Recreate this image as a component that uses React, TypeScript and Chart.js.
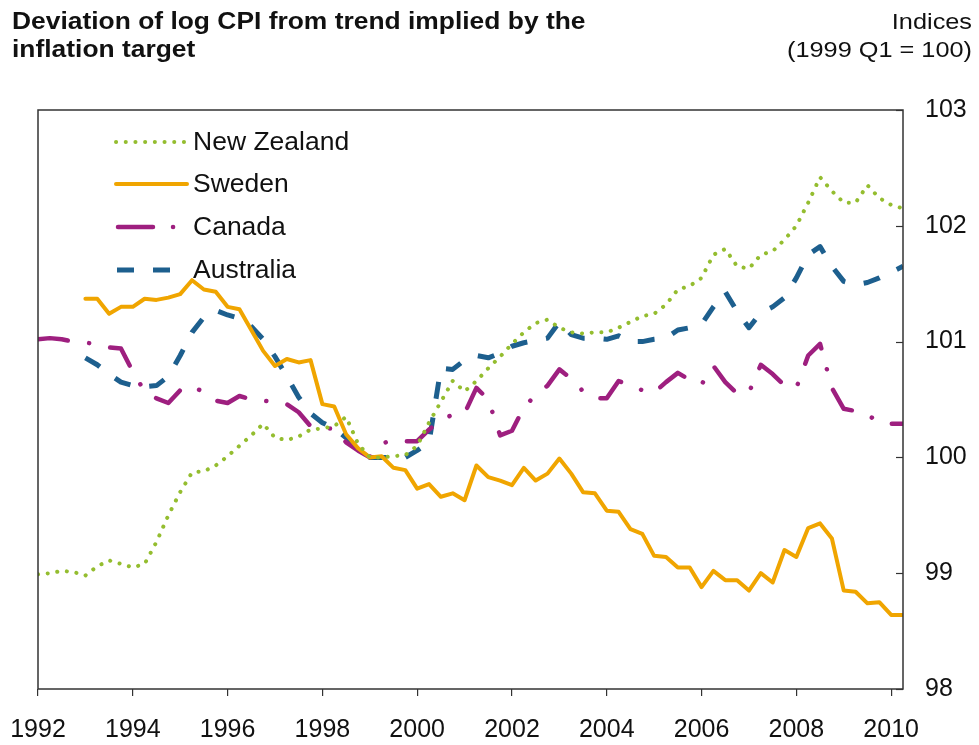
import React, { useEffect, useRef } from "react";
import { Chart, registerables } from "chart.js";

Chart.register(...registerables);

// ---- Data ----
const quarters = [
  "1992Q1", "1992Q2", "1992Q3", "1992Q4",
  "1993Q1", "1993Q2", "1993Q3", "1993Q4",
  "1994Q1", "1994Q2", "1994Q3", "1994Q4",
  "1995Q1", "1995Q2", "1995Q3", "1995Q4",
  "1996Q1", "1996Q2", "1996Q3", "1996Q4",
  "1997Q1", "1997Q2", "1997Q3", "1997Q4",
  "1998Q1", "1998Q2", "1998Q3", "1998Q4",
  "1999Q1", "1999Q2", "1999Q3", "1999Q4",
  "2000Q1", "2000Q2", "2000Q3", "2000Q4",
  "2001Q1", "2001Q2", "2001Q3", "2001Q4",
  "2002Q1", "2002Q2", "2002Q3", "2002Q4",
  "2003Q1", "2003Q2", "2003Q3", "2003Q4",
  "2004Q1", "2004Q2", "2004Q3", "2004Q4",
  "2005Q1", "2005Q2", "2005Q3", "2005Q4",
  "2006Q1", "2006Q2", "2006Q3", "2006Q4",
  "2007Q1", "2007Q2", "2007Q3", "2007Q4",
  "2008Q1", "2008Q2", "2008Q3", "2008Q4",
  "2009Q1", "2009Q2", "2009Q3", "2009Q4",
  "2010Q1", "2010Q2",
];

const newZealand = [
  98.99, 99.0, 99.02, 99.01,
  98.98, 99.06, 99.11, 99.08,
  99.05, 99.08, 99.27, 99.5,
  99.7, 99.87, 99.88, 99.93,
  100.01, 100.1, 100.19, 100.29,
  100.17, 100.15, 100.18, 100.24,
  100.25, 100.27, 100.35, 100.12,
  100.0, 100.0, 100.01, 100.02,
  100.1, 100.3, 100.48, 100.66,
  100.57, 100.66, 100.77, 100.87,
  100.98, 101.08, 101.16, 101.19,
  101.12, 101.08, 101.07, 101.08,
  101.08, 101.12, 101.17, 101.22,
  101.24, 101.32, 101.45, 101.48,
  101.55, 101.75, 101.8, 101.65,
  101.63, 101.75, 101.78, 101.88,
  102.0, 102.2, 102.42, 102.3,
  102.2, 102.2, 102.35, 102.24,
  102.18, 102.15,
];

const sweden = [
  null, null, null, null,
  101.37, 101.37, 101.24, 101.3,
  101.3, 101.37, 101.36, 101.38,
  101.41, 101.53, 101.45, 101.43,
  101.3, 101.28, 101.1, 100.92,
  100.79, 100.85, 100.82, 100.84,
  100.46, 100.44, 100.2, 100.08,
  100.0, 100.01, 99.91, 99.89,
  99.73, 99.77, 99.66, 99.69,
  99.63, 99.93, 99.83, 99.8,
  99.76, 99.91, 99.8, 99.86,
  99.99, 99.86, 99.7, 99.69,
  99.54, 99.53, 99.38, 99.34,
  99.15, 99.14, 99.05, 99.05,
  98.88, 99.02, 98.94, 98.94,
  98.85, 99.0, 98.92, 99.2,
  99.14, 99.39, 99.43, 99.3,
  98.85, 98.84, 98.74, 98.75,
  98.64, 98.64,
];

const canada = [
  101.02, 101.03, 101.02, 101.0,
  100.99, 100.98, 100.95, 100.94,
  100.74, 100.57, 100.51, 100.47,
  100.58, 100.62, 100.56, 100.49,
  100.47, 100.53, 100.5, 100.49,
  100.48, 100.46, 100.39, 100.27,
  100.25, 100.25, 100.13, 100.06,
  100.0, 100.12, 100.15, 100.14,
  100.14, 100.24, 100.32, 100.37,
  100.38, 100.6, 100.5, 100.19,
  100.23, 100.43, 100.54, 100.62,
  100.76, 100.68, 100.57, 100.51,
  100.51, 100.66, 100.62, 100.58,
  100.56, 100.65, 100.73, 100.67,
  100.63, 100.79, 100.65, 100.55,
  100.56, 100.8, 100.72, 100.62,
  100.6, 100.88, 100.98, 100.6,
  100.42, 100.4, 100.37, 100.3,
  100.29, 100.29,
];

const australia = [
  null, null, null, null,
  100.86, 100.8, 100.72, 100.65,
  100.62, 100.61, 100.62, 100.7,
  100.88, 101.08, 101.21, 101.27,
  101.23, 101.2, 101.13, 101.02,
  100.87, 100.7, 100.52, 100.38,
  100.3, 100.25, 100.17, 100.08,
  100.0, 100.0, 100.0, 100.0,
  100.06, 100.13, 100.77, 100.76,
  100.84, 100.88, 100.86, 100.9,
  100.96, 100.99, 101.01, 101.03,
  101.17, 101.06, 101.03, 101.03,
  101.02, 101.05, 101.0, 101.0,
  101.02, 101.03, 101.1, 101.12,
  101.15, 101.3, 101.43, 101.26,
  101.12, 101.25, 101.3, 101.38,
  101.55, 101.75, 101.82, 101.65,
  101.52, 101.49, 101.51, 101.55,
  101.6, 101.65,
];

const seriesNames = ["New Zealand", "Sweden", "Canada", "Australia"];
const xTickYears = [1992, 1994, 1996, 1998, 2000, 2002, 2004, 2006, 2008, 2010];
const yTickValues = [98, 99, 100, 101, 102, 103];
const titleLines = ["Deviation of log CPI from trend implied by the", "inflation target"];
const unitLines = ["Indices", "(1999 Q1 = 100)"];

// ---- Styles ----
const FONT = '"Liberation Sans", Arial, Helvetica, sans-serif';
const TEXT = "#111111";
const AXIS = "#333333";

const styles = [
  { color: "#94BD2F", width: 4, dash: [0.1, 9.6], cap: "round", legendDash: [0.1, 9.6] },
  { color: "#F0A500", width: 4, dash: [], cap: "round", legendDash: [] },
  { color: "#9E1F7F", width: 4.5, dash: [30, 21.5, 0.1, 21.5], cap: "round", legendDash: [35, 20, 0.1, 100] },
  { color: "#1D5F8E", width: 5, dash: [17, 19], cap: "butt", legendDash: [17, 19] },
];

function quarterToX(q: string): number {
  const yr = parseInt(q.slice(0, 4), 10);
  const n = parseInt(q.slice(5), 10);
  return yr + (n - 1) / 4;
}

function toPoints(values: (number | null)[]) {
  const pts: { x: number; y: number }[] = [];
  values.forEach((v, i) => {
    if (v !== null && v !== undefined) pts.push({ x: quarterToX(quarters[i]), y: v });
  });
  return pts;
}

function stretchedText(ctx: CanvasRenderingContext2D, text: string, x: number, y: number, sx: number, align: "left" | "right") {
  ctx.save();
  ctx.translate(x, y);
  ctx.scale(sx, 1);
  ctx.textAlign = align;
  ctx.fillText(text, 0, 0);
  ctx.restore();
}

const decorPlugin = {
  id: "decor",
  afterDraw(chart: any) {
    const ctx: CanvasRenderingContext2D = chart.ctx;
    const { left, right, top, bottom } = chart.chartArea;
    const yScale = chart.scales.y;

    ctx.save();
    // frame
    ctx.strokeStyle = AXIS;
    ctx.lineWidth = 1.5;
    ctx.setLineDash([]);
    ctx.strokeRect(left, top, right - left, bottom - top);

    // inward y tick marks on the right border
    ctx.lineWidth = 1.2;
    yScale.ticks.forEach((t: any) => {
      const py = Math.round(yScale.getPixelForValue(t.value)) + 0.5;
      ctx.beginPath();
      ctx.moveTo(right - 7, py);
      ctx.lineTo(right, py);
      ctx.stroke();
    });

    // legend
    const rows = [142, 184, 227, 270];
    chart.data.datasets.forEach((ds: any, i: number) => {
      const st = styles[i];
      const y = rows[i];
      ctx.save();
      ctx.strokeStyle = st.color;
      ctx.lineWidth = st.width;
      ctx.lineCap = st.cap as CanvasLineCap;
      ctx.setLineDash(st.legendDash);
      ctx.beginPath();
      if (i === 3) {
        ctx.moveTo(117, y);
        ctx.lineTo(172, y);
      } else if (i === 2) {
        ctx.moveTo(118, y);
        ctx.lineTo(176, y);
      } else {
        ctx.moveTo(116, y);
        ctx.lineTo(i === 0 ? 184 : 187, y);
      }
      ctx.stroke();
      ctx.restore();

      ctx.fillStyle = TEXT;
      ctx.font = `25px ${FONT}`;
      ctx.textBaseline = "middle";
      stretchedText(ctx, ds.label, 193, y + 1, 1.06, "left");
    });

    // titles
    ctx.fillStyle = TEXT;
    ctx.textBaseline = "alphabetic";
    ctx.font = `bold 24px ${FONT}`;
    stretchedText(ctx, titleLines[0], 12, 29, 1.1, "left");
    stretchedText(ctx, titleLines[1], 12, 57, 1.1, "left");
    ctx.font = `22px ${FONT}`;
    stretchedText(ctx, unitLines[0], 972, 29, 1.15, "right");
    stretchedText(ctx, unitLines[1], 972, 57, 1.15, "right");
    ctx.restore();
  },
};

export default function App() {
  const canvasRef = useRef<HTMLCanvasElement | null>(null);

  useEffect(() => {
    const canvas = canvasRef.current;
    if (!canvas) return;
    const allSeries = [newZealand, sweden, canada, australia];
    const chart = new Chart(canvas, {
      type: "line",
      data: {
        datasets: allSeries.map((vals, i) => ({
          label: seriesNames[i],
          data: toPoints(vals),
          borderColor: styles[i].color,
          backgroundColor: styles[i].color,
          borderWidth: styles[i].width,
          borderDash: styles[i].dash,
          borderCapStyle: styles[i].cap as CanvasLineCap,
          borderJoinStyle: "round",
          pointRadius: 0,
          pointHoverRadius: 0,
          tension: 0,
          fill: false,
        })),
      },
      options: {
        animation: false,
        responsive: false,
        maintainAspectRatio: false,
        events: [],
        layout: { padding: { left: 38, top: 110, right: 0, bottom: 0 } },
        plugins: {
          legend: { display: false },
          title: { display: false },
          tooltip: { enabled: false },
        },
        scales: {
          x: {
            type: "linear",
            min: 1992,
            max: 2010.25,
            afterFit: (s: any) => {
              s.height = 56;
              s.paddingLeft = 0;
              s.paddingRight = 0;
            },
            afterBuildTicks: (s: any) => {
              s.ticks = xTickYears.map((v) => ({ value: v }));
            },
            ticks: {
              autoSkip: false,
              maxRotation: 0,
              minRotation: 0,
              padding: 19,
              color: TEXT,
              font: { family: FONT, size: 25 },
              callback: (v: any) => String(v),
            },
            grid: {
              drawOnChartArea: false,
              drawTicks: true,
              tickLength: 7,
              color: AXIS,
              lineWidth: 1.2,
            },
            border: { display: false },
          },
          y: {
            type: "linear",
            position: "right",
            min: 98,
            max: 103,
            afterFit: (s: any) => {
              s.width = 76;
              s.paddingTop = 0;
              s.paddingBottom = 0;
            },
            afterBuildTicks: (s: any) => {
              s.ticks = yTickValues.map((v) => ({ value: v }));
            },
            ticks: {
              padding: 22,
              color: TEXT,
              font: { family: FONT, size: 25 },
              callback: (v: any) => String(v),
            },
            grid: { display: false, drawTicks: false },
            border: { display: false },
          },
        },
      },
      plugins: [decorPlugin],
    } as any);
    return () => chart.destroy();
  }, []);

  return (
    <div style={{ position: "absolute", left: 0, top: 0, width: 979, height: 745, background: "#fff" }}>
      <canvas ref={canvasRef} width={979} height={745} style={{ display: "block" }} />
    </div>
  );
}
